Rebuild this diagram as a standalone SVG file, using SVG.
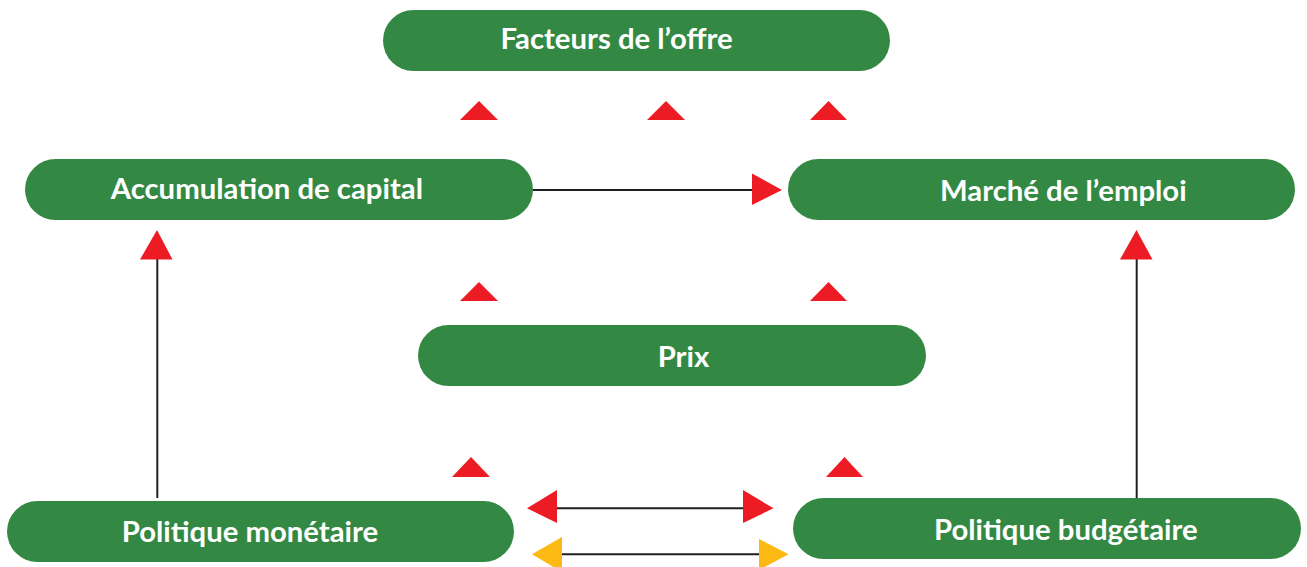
<svg xmlns="http://www.w3.org/2000/svg" width="1307" height="567" viewBox="0 0 1307 567">
<style>
.pill{fill:#338943;}
.lbl{font-family:Lato,"Open Sans",sans-serif;font-weight:bold;font-size:29.3px;fill:#ffffff;}
.ln{stroke:#231f20;stroke-width:2;fill:none;}
.red{fill:#ed1c24;}
.yel{fill:#fdb913;}
</style>
<rect width="1307" height="567" fill="#ffffff"/>
<g id="connectors">
  <line class="ln" x1="533" y1="190" x2="753" y2="190"/>
  <polygon class="red" points="752,173.5 782,190 752,205"/>
  <line class="ln" x1="157.3" y1="258" x2="157.3" y2="498"/>
  <polygon class="red" points="140,259.5 157,230 172.5,259.5"/>
  <line class="ln" x1="1136.7" y1="258" x2="1136.7" y2="498"/>
  <polygon class="red" points="1120,259.5 1136.5,230 1152.5,259.5"/>
  <polygon class="red" points="460,120 479,101 498,120"/>
  <polygon class="red" points="647,120 666,101 685,120"/>
  <polygon class="red" points="810,120 828.5,101 847,120"/>
  <polygon class="red" points="460,301 479,282 498,301"/>
  <polygon class="red" points="810,301 828.5,282 847,301"/>
  <polygon class="red" points="452,477 471,457 490,477"/>
  <polygon class="red" points="826,477 844.5,457 863,477"/>
  <line class="ln" x1="556" y1="508.3" x2="744" y2="508.3"/>
  <polygon class="red" points="557,490 527,508.3 557,523"/>
  <polygon class="red" points="743,490 773.5,508.3 743,523"/>
  <line class="ln" x1="561" y1="554.3" x2="760" y2="554.3"/>
  <polygon class="yel" points="562,537 532,554.3 562,572"/>
  <polygon class="yel" points="759,539 788.5,554.3 759,570"/>
</g>
<g id="facteurs">
  <rect class="pill" x="383" y="10" width="507" height="61" rx="30.5"/>
  <text class="lbl" x="500.5" y="49.3">Facteurs de l’offre</text>
</g>
<g id="accumulation">
  <rect class="pill" x="25" y="159" width="508" height="61" rx="30.5"/>
  <text class="lbl" x="110.7" y="199">Accumulation de capital</text>
</g>
<g id="marche">
  <rect class="pill" x="788" y="159" width="507" height="61" rx="30.5"/>
  <text class="lbl" x="940" y="200.5">Marché de l’emploi</text>
</g>
<g id="prix">
  <rect class="pill" x="418" y="325" width="508" height="61" rx="30.5"/>
  <text class="lbl" x="657.7" y="366.5">Prix</text>
</g>
<g id="monetaire">
  <rect class="pill" x="7" y="501" width="507" height="61" rx="30.5"/>
  <text class="lbl" x="121.7" y="541.7">Politique monétaire</text>
</g>
<g id="budgetaire">
  <rect class="pill" x="793" y="498" width="508" height="61" rx="30.5"/>
  <text class="lbl" x="934" y="539.7">Politique budgétaire</text>
</g>
</svg>
